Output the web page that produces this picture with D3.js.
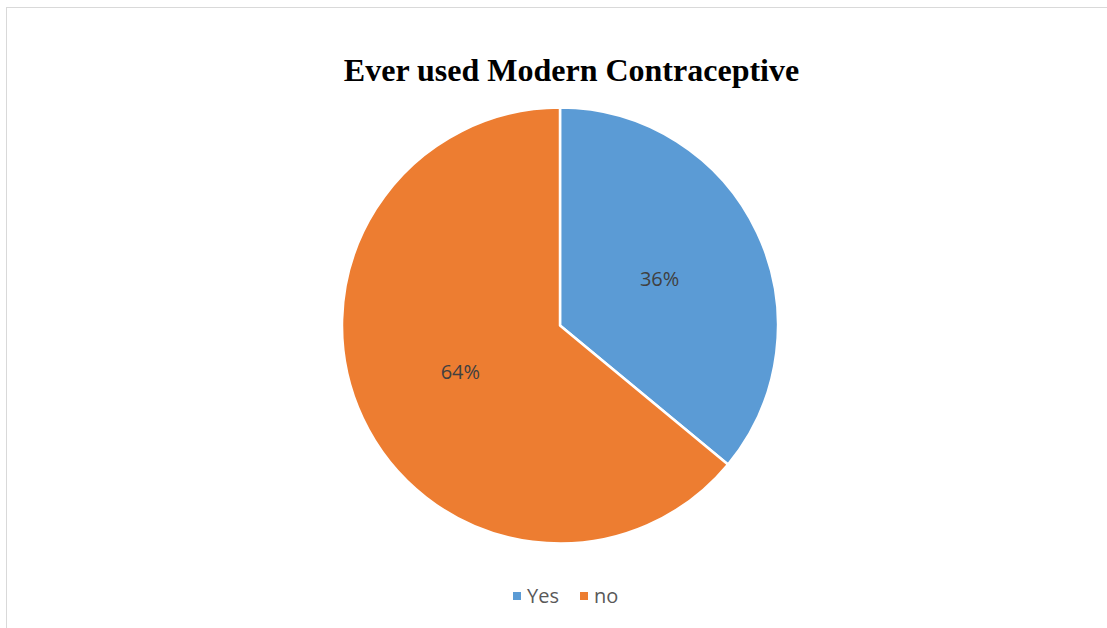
<!DOCTYPE html>
<html>
<head>
<meta charset="utf-8">
<script src="https://cdn.jsdelivr.net/npm/d3@7"></script>
<style>
  html, body { margin: 0; padding: 0; background: #ffffff; }
  svg { display: block; }
</style>
</head>
<body>
<div id="chart"></div>
<script>
  const categories = ['Yes', 'no'];
  const values = [36, 64];
  const colors = ['#5B9BD5', '#ED7D31'];
  const title = 'Ever used Modern Contraceptive';

  const width = 1107;
  const height = 628;
  const cx = 560;
  const cy = 325.5;
  const radius = 218;

  const svg = d3.select('#chart')
    .append('svg')
    .attr('width', width)
    .attr('height', height);

  // chart frame
  svg.append('rect')
    .attr('x', 6.5)
    .attr('y', 7.5)
    .attr('width', width + 10)
    .attr('height', height + 10)
    .attr('fill', '#ffffff')
    .attr('stroke', '#d9d9d9')
    .attr('stroke-width', 1);

  svg.append('text')
    .attr('x', 571.5)
    .attr('y', 81)
    .attr('text-anchor', 'middle')
    .attr('font-family', '"Liberation Serif", "Times New Roman", serif')
    .attr('font-weight', 'bold')
    .attr('font-size', 32)
    .attr('fill', '#000000')
    .text(title);

  const data = categories.map((name, i) => ({ name, value: values[i] }));

  const pie = d3.pie()
    .sort(null)
    .value((d) => d.value);

  const arc = d3.arc()
    .innerRadius(0)
    .outerRadius(radius);

  const labelArc = d3.arc()
    .innerRadius(0)
    .outerRadius(radius * 1.01);

  const color = d3.scaleOrdinal()
    .domain(categories)
    .range(colors);

  const total = d3.sum(values);
  const g = svg.append('g')
    .attr('transform', `translate(${cx},${cy})`);

  const arcs = pie(data);

  g.selectAll('path')
    .data(arcs)
    .join('path')
    .attr('d', arc)
    .attr('fill', (d) => color(d.data.name))
    .attr('stroke', '#ffffff')
    .attr('stroke-width', 2.5)
    .attr('stroke-linejoin', 'round');

  g.selectAll('text.label')
    .data(arcs)
    .join('text')
    .attr('class', 'label')
    .attr('transform', (d) => `translate(${labelArc.centroid(d)})`)
    .attr('text-anchor', 'middle')
    .attr('dy', '0.35em')
    .attr('font-family', '"Open Sans", "Noto Sans", sans-serif')
    .attr('font-size', 20)
    .attr('fill', '#404040')
    .text((d) => `${Math.round((d.data.value / total) * 100)}%`);

  // legend
  const legendItems = [
    { name: categories[0], x: 513 },
    { name: categories[1], x: 580 },
  ];

  const legend = svg.append('g')
    .attr('transform', 'translate(0,596)');

  const item = legend.selectAll('g')
    .data(legendItems)
    .join('g')
    .attr('transform', (d) => `translate(${d.x},0)`);

  item.append('rect')
    .attr('x', 0)
    .attr('y', -4)
    .attr('width', 8)
    .attr('height', 8)
    .attr('fill', (d) => color(d.name));

  item.append('text')
    .attr('x', 14)
    .attr('y', 0)
    .attr('dy', '0.35em')
    .attr('font-family', '"Open Sans", "Noto Sans", sans-serif')
    .attr('font-size', 20)
    .attr('fill', '#595959')
    .text((d) => d.name);
</script>
</body>
</html>
